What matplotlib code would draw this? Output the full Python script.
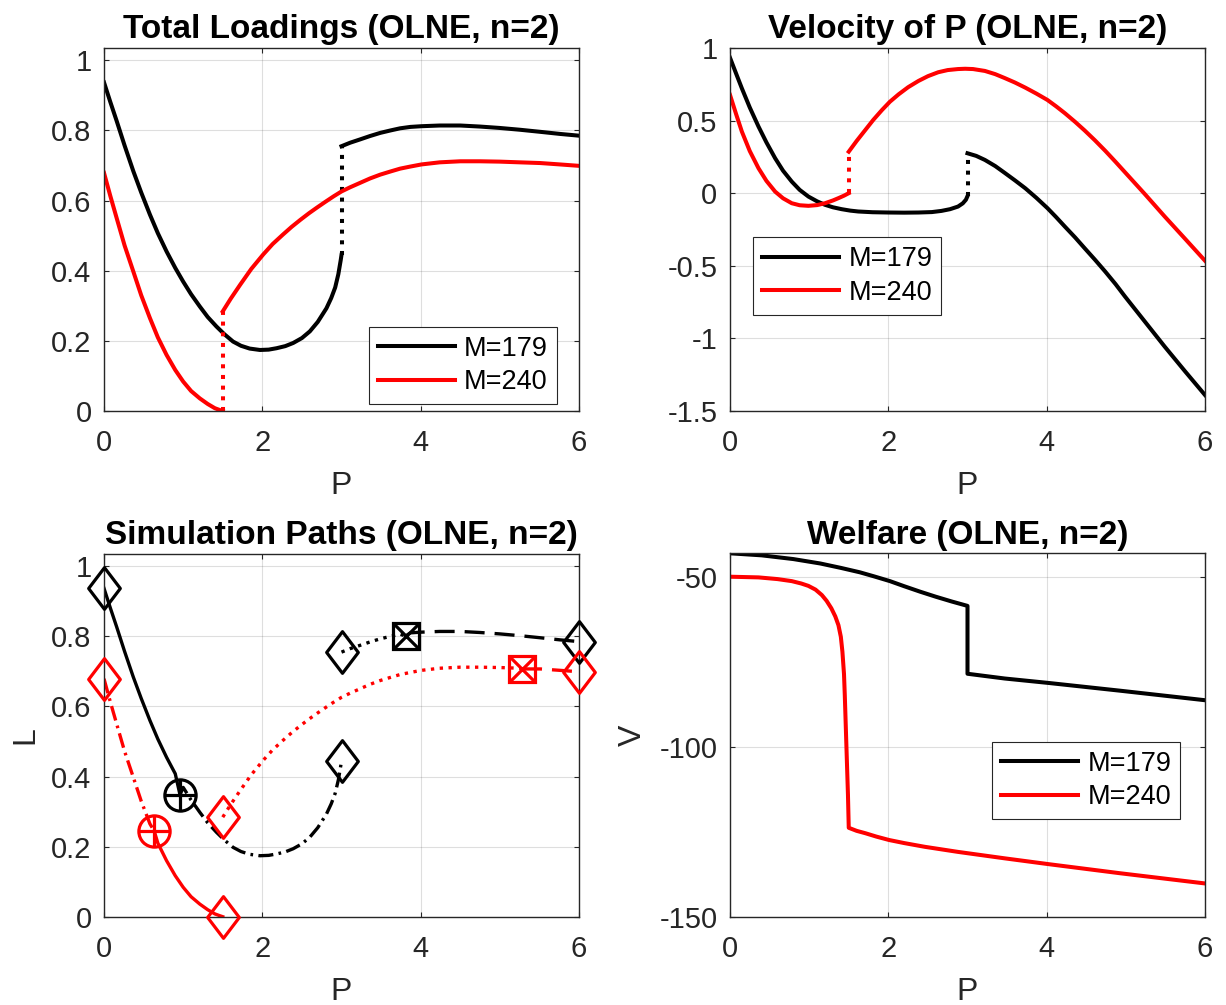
import matplotlib
matplotlib.use("Agg")
import matplotlib.pyplot as plt
from matplotlib.path import Path
import numpy as np

plt.rcParams['font.family'] = ['Liberation Sans', 'DejaVu Sans']
plt.rcParams['axes.unicode_minus'] = False

# ---------------- data ----------------
# Total loadings L(P)
P_L179_lo = [0, 0.08, 0.16, 0.26, 0.37, 0.47, 0.58, 0.68, 0.79, 0.90, 1.0, 1.1, 1.21, 1.31, 1.42, 1.52,
             1.63, 1.73, 1.84, 1.97, 2.08, 2.18, 2.29, 2.39, 2.50, 2.60, 2.70, 2.81, 2.87, 2.92, 2.96, 2.99, 3.0]
L179_lo = [0.937, 0.881, 0.827, 0.757, 0.684, 0.623, 0.560, 0.507, 0.455, 0.408, 0.369, 0.333, 0.298, 0.268,
           0.241, 0.219, 0.198, 0.186, 0.178, 0.174, 0.175, 0.179, 0.185, 0.194, 0.208, 0.227, 0.254, 0.293,
           0.322, 0.352, 0.39, 0.43, 0.445]
P_L179_hi = [3.0, 3.11, 3.23, 3.36, 3.49, 3.62, 3.74, 3.87, 4.01, 4.24, 4.5, 4.75, 5.0, 5.25, 5.51, 5.76, 6.0]
L179_hi = [0.755, 0.765, 0.774, 0.784, 0.793, 0.800, 0.806, 0.810, 0.812, 0.814, 0.814, 0.811, 0.807, 0.802,
           0.796, 0.79, 0.785]
P_L240_lo = [0, 0.08, 0.16, 0.26, 0.37, 0.47, 0.58, 0.68, 0.79, 0.90, 1.0, 1.1, 1.21, 1.31, 1.40, 1.46, 1.5]
L240_lo = [0.679, 0.613, 0.55, 0.472, 0.398, 0.33, 0.265, 0.21, 0.16, 0.117, 0.084, 0.057, 0.036, 0.02,
           0.008, 0.003, 0.0]
P_L240_hi = [1.5, 1.6, 1.72, 1.86, 2.01, 2.13, 2.26, 2.37, 2.48, 2.59, 2.69, 2.80, 2.90, 3.0, 3.11, 3.23,
             3.36, 3.49, 3.62, 3.74, 3.87, 4.01, 4.24, 4.5, 4.75, 5.0, 5.25, 5.51, 5.76, 6.0]
L240_hi = [0.284, 0.32, 0.36, 0.405, 0.446, 0.476, 0.503, 0.525, 0.545, 0.564, 0.58, 0.597, 0.612, 0.626,
           0.638, 0.65, 0.663, 0.674, 0.683, 0.691, 0.697, 0.703, 0.709, 0.712, 0.712, 0.711, 0.709, 0.707,
           0.703, 0.699]

# Velocity of P
P_V179_lo = [0, 0.08, 0.15, 0.25, 0.36, 0.46, 0.57, 0.67, 0.78, 0.88, 0.99, 1.1, 1.2, 1.3, 1.41, 1.52,
             1.62, 1.8, 2.0, 2.2, 2.38, 2.55, 2.67, 2.78, 2.88, 2.94, 2.98, 3.0]
V179_lo = [0.933, 0.82, 0.722, 0.59, 0.459, 0.35, 0.241, 0.155, 0.08, 0.023, -0.023, -0.056, -0.08, -0.097,
           -0.11, -0.12, -0.126, -0.131, -0.133, -0.134, -0.133, -0.13, -0.122, -0.11, -0.092, -0.07,
           -0.045, -0.02]
P_V179_hi = [3.0, 3.11, 3.22, 3.35, 3.47, 3.6, 3.73, 3.87, 4.01, 4.12, 4.23, 4.36, 4.48, 4.61, 4.74, 4.87,
             4.99, 5.24, 5.49, 5.75, 6.0]
V179_hi = [0.275, 0.257, 0.229, 0.187, 0.140, 0.088, 0.034, -0.032, -0.103, -0.165, -0.23, -0.305, -0.379,
           -0.458, -0.54, -0.626, -0.712, -0.884, -1.056, -1.228, -1.39]
P_V240_lo = [0, 0.08, 0.15, 0.25, 0.36, 0.46, 0.57, 0.67, 0.78, 0.88, 0.99, 1.1, 1.2, 1.3, 1.37, 1.44, 1.5]
V240_lo = [0.677, 0.54, 0.424, 0.29, 0.172, 0.085, 0.011, -0.035, -0.069, -0.083, -0.087, -0.082, -0.069,
           -0.05, -0.034, -0.017, 0.0]
P_V240_hi = [1.5, 1.6, 1.71, 1.81, 1.92, 2.02, 2.13, 2.25, 2.38, 2.5, 2.63, 2.75, 2.88, 2.97, 3.07, 3.22,
             3.35, 3.47, 3.6, 3.73, 3.87, 4.01, 4.12, 4.23, 4.36, 4.48, 4.61, 4.74, 4.87, 4.99, 5.24, 5.49,
             5.75, 6.0]
V240_hi = [0.286, 0.36, 0.436, 0.505, 0.573, 0.63, 0.681, 0.73, 0.773, 0.806, 0.833, 0.848, 0.855, 0.857,
           0.855, 0.842, 0.82, 0.793, 0.762, 0.727, 0.686, 0.642, 0.598, 0.551, 0.491, 0.432, 0.364, 0.292,
           0.216, 0.144, -0.006, -0.16, -0.315, -0.465]

# Welfare
P_W179 = [0, 0.4, 0.8, 1.14, 1.4, 1.64, 1.82, 2.02, 2.2, 2.4, 2.6, 2.8, 3.0, 3.0, 3.47, 4.02, 4.93, 6.0]
W179 = [-42.9, -43.5, -44.6, -45.9, -47.2, -48.5, -49.7, -51.1, -52.6, -54.2, -55.7, -57.1, -58.4, -78.4,
        -79.8, -81.1, -83.4, -86.2]
P_W240 = [0, 0.36, 0.6, 0.78, 0.9, 0.99, 1.08, 1.16, 1.22, 1.28, 1.33, 1.37, 1.40, 1.42, 1.44, 1.45, 1.47,
          1.49, 1.5, 1.6, 1.71, 1.85, 2.01, 2.2, 2.46, 2.88, 3.47, 4.02, 4.93, 6.0]
W240 = [-49.8, -50.0, -50.5, -51.1, -51.8, -52.5, -53.6, -55.2, -56.9, -59.1, -61.5, -64.1, -67.5, -71.9,
        -78.5, -84.7, -99.4, -114.1, -123.8, -124.7, -125.4, -126.4, -127.4, -128.3, -129.4, -130.9, -132.8,
        -134.5, -137.2, -140.2]

# Simulation path markers
start_179 = [(0.0, 0.937), (3.0, 0.445), (3.0, 0.755), (6.0, 0.785)]
start_240 = [(0.0, 0.679), (1.5, 0.0), (1.5, 0.284), (6.0, 0.699)]
ss_low_179 = (0.96, 0.348)
ss_low_240 = (0.635, 0.244)
ss_high_179 = (3.81, 0.801)
ss_high_240 = (5.28, 0.707)

labels = ['M=179', 'M=240']
titles = ['Total Loadings (OLNE, n=2)', 'Velocity of P (OLNE, n=2)',
          'Simulation Paths (OLNE, n=2)', 'Welfare (OLNE, n=2)']

# ---------------- styling ----------------
W, H = 1226, 1005
fig = plt.figure(figsize=(W / 100, H / 100), dpi=100)
AX = '#262626'
LW = 2.9
LWS = 2.4
TICK_FS = 21
LAB_FS = 23
TITLE_FS = 24
LEG_FS = 19.5


def mk_axes(x0, y_top, y_bot, x1):
    return fig.add_axes([x0 / W, (H - y_bot) / H, (x1 - x0) / W, (y_bot - y_top) / H])


def style(ax, xlim, ylim, yticks, title, xlabel='P', ylabel=None):
    ax.set_xlim(*xlim)
    ax.set_ylim(*ylim)
    ax.set_xticks([0, 2, 4, 6])
    ax.set_xticklabels(['0', '2', '4', '6'])
    ax.set_yticks(yticks)
    ax.set_yticklabels(['%g' % t for t in yticks])
    ax.grid(True, color=AX, alpha=0.15, lw=0.8)
    ax.set_axisbelow(True)
    for s in ax.spines.values():
        s.set_color(AX)
        s.set_linewidth(1.0)
    ax.tick_params(direction='in', length=3.6, width=0.8, color=AX, labelcolor=AX,
                   labelsize=TICK_FS, top=True, right=True)
    ax.tick_params(axis='x', pad=13)
    ax.tick_params(axis='y', pad=9)
    ax.set_title(title, fontsize=TITLE_FS, fontweight='bold', pad=7)
    ax.set_xlabel(xlabel, fontsize=LAB_FS, color=AX, labelpad=10)
    if ylabel:
        ax.set_ylabel(ylabel, fontsize=LAB_FS, color=AX, labelpad=8)


def legend(ax, loc, anchor, handles):
    lg = ax.legend(handles, labels, loc=loc, bbox_to_anchor=anchor, fontsize=LEG_FS,
                   fancybox=False, framealpha=1, edgecolor=AX, borderaxespad=0,
                   handlelength=2.85, handletextpad=0.35, labelspacing=0.28, borderpad=0.33)
    lg.get_frame().set_linewidth(0.8)
    return lg


ax1 = mk_axes(104, 48, 411, 579)
ax2 = mk_axes(730, 48, 411, 1205)
ax3 = mk_axes(104, 554, 916.7, 579)
ax4 = mk_axes(730, 553.3, 916.7, 1205)

# --- Panel 1: Total loadings
h1, = ax1.plot(P_L179_lo, L179_lo, 'k-', lw=LW)
ax1.plot(P_L179_hi, L179_hi, 'k-', lw=LW)
ax1.plot([P_L179_lo[-1], P_L179_hi[0]], [L179_lo[-1], L179_hi[0]], 'k:', lw=LW)
h2, = ax1.plot(P_L240_lo, L240_lo, 'r-', lw=LW)
ax1.plot(P_L240_hi, L240_hi, 'r-', lw=LW)
ax1.plot([P_L240_lo[-1], P_L240_hi[0]], [L240_lo[-1], L240_hi[0]], 'r:', lw=LW)
style(ax1, (0, 6), (0, 1.035), [0, 0.2, 0.4, 0.6, 0.8, 1], titles[0])
legend(ax1, 'lower right', (0.9537, 0.0185), [h1, h2])

# --- Panel 2: Velocity
h1, = ax2.plot(P_V179_lo, V179_lo, 'k-', lw=LW)
ax2.plot(P_V179_hi, V179_hi, 'k-', lw=LW)
ax2.plot([P_V179_lo[-1], P_V179_hi[0]], [V179_lo[-1], V179_hi[0]], 'k:', lw=LW)
h2, = ax2.plot(P_V240_lo, V240_lo, 'r-', lw=LW)
ax2.plot(P_V240_hi, V240_hi, 'r-', lw=LW)
ax2.plot([P_V240_lo[-1], P_V240_hi[0]], [V240_lo[-1], V240_hi[0]], 'r:', lw=LW)
style(ax2, (0, 6), (-1.5, 1.0), [-1.5, -1, -0.5, 0, 0.5, 1], titles[1])
legend(ax2, 'upper left', (0.0484, 0.479), [h1, h2])

# --- Panel 3: Simulation paths
DASH = (0, (6, 3))
DOT = (0, (1, 1.65))
DASHDOT = (0, (4.5, 1.6, 0.8, 1.6))


def split(P, L, p, l):
    P = np.asarray(P); L = np.asarray(L)
    left = P < p
    right = P > p
    return (np.r_[P[left], p], np.r_[L[left], l]), (np.r_[p, P[right]], np.r_[l, L[right]])


(a, b) = split(P_L179_lo, L179_lo, *ss_low_179)
ax3.plot(*a, color='k', ls='-', lw=LWS)
ax3.plot(*b, color='k', ls=DASHDOT, lw=LWS)
(a, b) = split(P_L179_hi, L179_hi, *ss_high_179)
ax3.plot(*a, color='k', ls=DOT, lw=LWS)
ax3.plot(*b, color='k', ls=DASH, lw=LWS)
(a, b) = split(P_L240_lo, L240_lo, *ss_low_240)
ax3.plot(*a, color='r', ls=DASHDOT, lw=LWS)
ax3.plot(*b, color='r', ls='-', lw=LWS)
(a, b) = split(P_L240_hi, L240_hi, *ss_high_240)
ax3.plot(*a, color='r', ls=DOT, lw=LWS)
ax3.plot(*b, color='r', ls=DASH, lw=LWS)

diamond = Path([(0, 1), (0.76, 0), (0, -1), (-0.76, 0), (0, 1)],
               [Path.MOVETO, Path.LINETO, Path.LINETO, Path.LINETO, Path.CLOSEPOLY])
MEW = 2.3
for pts, c in ((start_179, 'k'), (start_240, 'r')):
    xs = [p[0] for p in pts]; ys = [p[1] for p in pts]
    ax3.plot(xs, ys, ls='none', marker=diamond, ms=30, mfc='none', mec=c, mew=MEW,
             clip_on=False, zorder=5)
for (x, y), c in ((ss_low_179, 'k'), (ss_low_240, 'r')):
    ax3.plot([x], [y], ls='none', marker='o', ms=22.5, mfc='none', mec=c, mew=MEW, zorder=5)
    ax3.plot([x], [y], ls='none', marker='+', ms=22.5, mec=c, mew=MEW, zorder=5)
for (x, y), c in ((ss_high_179, 'k'), (ss_high_240, 'r')):
    ax3.plot([x], [y], ls='none', marker='s', ms=19, mfc='none', mec=c, mew=MEW, zorder=5)
    ax3.plot([x], [y], ls='none', marker='x', ms=19, mec=c, mew=MEW, zorder=5)
style(ax3, (0, 6), (0, 1.035), [0, 0.2, 0.4, 0.6, 0.8, 1], titles[2], ylabel='L')

# --- Panel 4: Welfare
h1, = ax4.plot(P_W179, W179, 'k-', lw=LW)
h2, = ax4.plot(P_W240, W240, 'r-', lw=LW)
style(ax4, (0, 6), (-150, -42.9), [-150, -100, -50], titles[3], ylabel='V')
legend(ax4, 'upper left', (0.5516, 0.4817), [h1, h2])

fig.savefig('out.png', dpi=100)
